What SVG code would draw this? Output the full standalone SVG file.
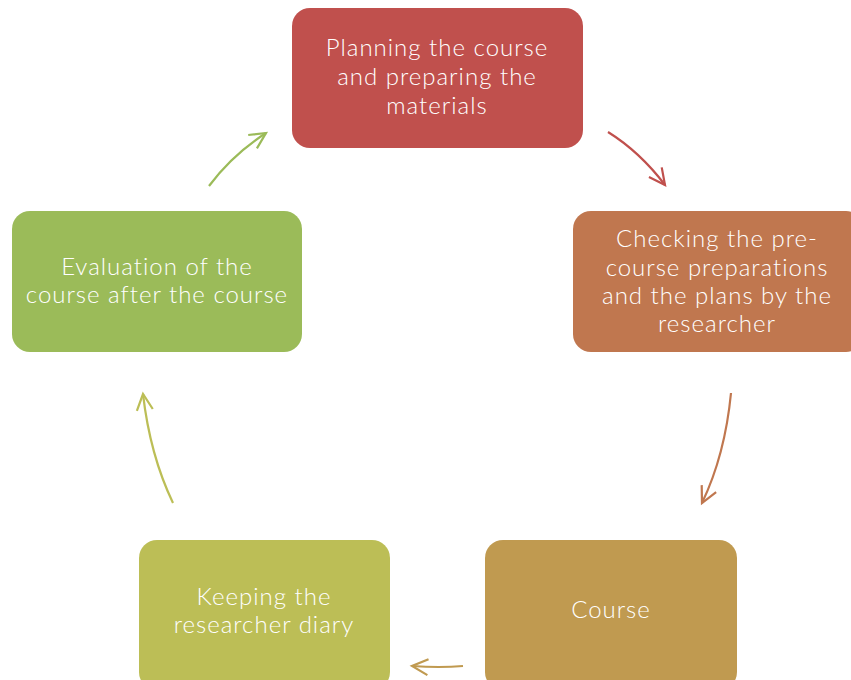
<svg xmlns="http://www.w3.org/2000/svg" width="851" height="680" viewBox="0 0 851 680">
<defs>
<marker id="a1" viewBox="0 0 24 24" refX="20" refY="12" markerWidth="24" markerHeight="24" markerUnits="userSpaceOnUse" orient="auto"><path d="M4,4 L20,12 L4,20" fill="none" stroke="#C0504D" stroke-width="2.2"/></marker>
<marker id="a2" viewBox="0 0 24 24" refX="20" refY="12" markerWidth="24" markerHeight="24" markerUnits="userSpaceOnUse" orient="auto"><path d="M4,4 L20,12 L4,20" fill="none" stroke="#C0774F" stroke-width="2.2"/></marker>
<marker id="a3" viewBox="0 0 24 24" refX="20" refY="12" markerWidth="24" markerHeight="24" markerUnits="userSpaceOnUse" orient="auto"><path d="M4,4 L20,12 L4,20" fill="none" stroke="#C09A50" stroke-width="2.2"/></marker>
<marker id="a4" viewBox="0 0 24 24" refX="20" refY="12" markerWidth="24" markerHeight="24" markerUnits="userSpaceOnUse" orient="auto"><path d="M4,4 L20,12 L4,20" fill="none" stroke="#BCBE56" stroke-width="2.2"/></marker>
<marker id="a5" viewBox="0 0 24 24" refX="20" refY="12" markerWidth="24" markerHeight="24" markerUnits="userSpaceOnUse" orient="auto"><path d="M4,4 L20,12 L4,20" fill="none" stroke="#9BBB59" stroke-width="2.2"/></marker>
</defs>
<style>
.box{stroke:none}
.t{font-family:Lato,"Open Sans",sans-serif;font-size:24px;font-weight:300;letter-spacing:1px;fill:#ffffff;text-anchor:middle}
.c{fill:none;stroke-width:2.2}
</style>
<g id="node-planning">
<rect class="box" x="292" y="8" width="291" height="140" rx="18" fill="#C0504D"/>
<text class="t" x="437" y="56">Planning the course</text>
<text class="t" x="437" y="85">and preparing the</text>
<text class="t" x="437" y="114">materials</text>
</g>
<g id="node-checking">
<rect class="box" x="573" y="211" width="291" height="141" rx="18" fill="#C0774F"/>
<text class="t" x="717" y="247">Checking the pre-</text>
<text class="t" x="717" y="276">course preparations</text>
<text class="t" x="717" y="304">and the plans by the</text>
<text class="t" x="717" y="332">researcher</text>
</g>
<g id="node-course">
<rect class="box" x="485" y="540" width="252" height="150" rx="18" fill="#C09A50"/>
<text class="t" x="611" y="618">Course</text>
</g>
<g id="node-diary">
<rect class="box" x="139" y="540" width="251" height="150" rx="18" fill="#BCBE56"/>
<text class="t" x="264" y="605">Keeping the</text>
<text class="t" x="264" y="633">researcher diary</text>
</g>
<g id="node-evaluation">
<rect class="box" x="12" y="211" width="290" height="141" rx="18" fill="#9BBB59"/>
<text class="t" x="157" y="275">Evaluation of the</text>
<text class="t" x="157" y="303">course after the course</text>
</g>
<g id="connectors">
<path class="c" stroke="#C0504D" d="M608,132 Q640,152 665,185" marker-end="url(#a1)"/>
<path class="c" stroke="#C0774F" d="M731,393 Q725,455 702,503" marker-end="url(#a2)"/>
<path class="c" stroke="#C09A50" d="M463,666 Q440,668 412,666" marker-end="url(#a3)"/>
<path class="c" stroke="#BCBE56" d="M173,503 Q150,455 143,394" marker-end="url(#a4)"/>
<path class="c" stroke="#9BBB59" d="M209,186 Q232,155 266,133" marker-end="url(#a5)"/>
</g>
</svg>
